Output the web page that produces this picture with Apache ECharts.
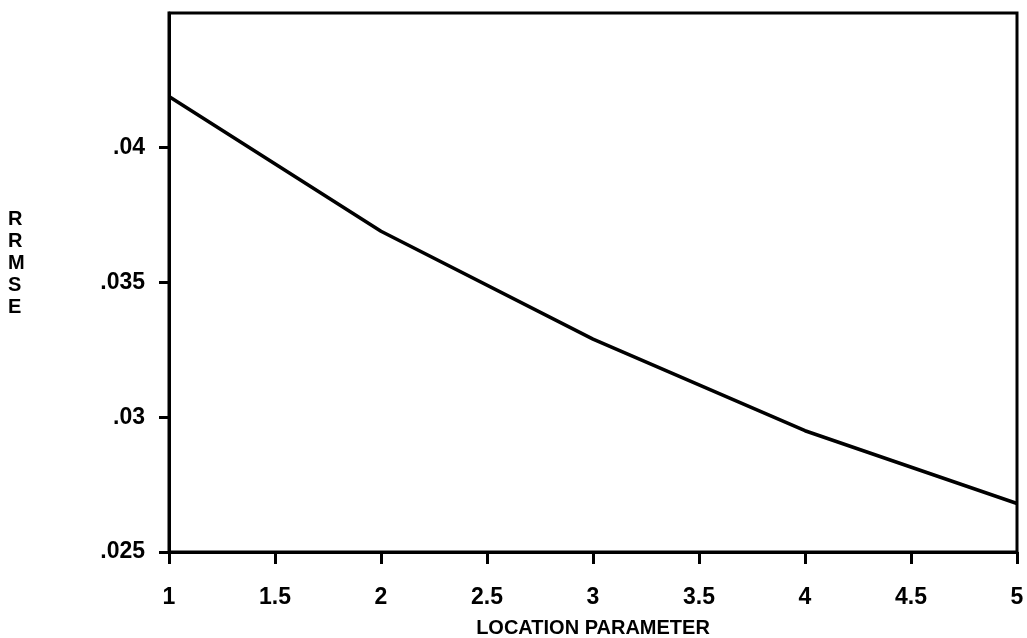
<!DOCTYPE html>
<html>
<head>
<meta charset="utf-8">
<style>
  html, body { margin: 0; padding: 0; background: #fff; }
  #chart { width: 1027px; height: 638px; }
</style>
<script src="https://cdn.jsdelivr.net/npm/echarts@6/dist/echarts.min.js"></script>
</head>
<body>
<div id="chart"></div>
<script>
// Location parameter values and the RRMSE measured at each
const locationParam = [1, 2, 3, 4, 5];
const rrmse = [0.0419, 0.0369, 0.0329, 0.0295, 0.0268];

// Axis settings
const xTicks = { min: 1, max: 5, step: 0.5 };
const yTicks = { min: 0.025, max: 0.045, step: 0.005 };
const yTickValues = [0.025, 0.03, 0.035, 0.04];
const xTitle = 'LOCATION PARAMETER';
const yTitle = 'RRMSE';

const FONT = '"Liberation Sans", Arial, sans-serif';

const chart = echarts.init(document.getElementById('chart'), null, { renderer: 'canvas' });

const fmtY = v => String(+v.toFixed(3)).replace(/^0/, '');

chart.setOption({
  animation: false,
  backgroundColor: '#fff',
  grid: {
    left: 169, right: 10, top: 13, bottom: 86,
    outerBoundsMode: 'none',
    containLabel: false,
    show: true, borderColor: '#000', borderWidth: 3, backgroundColor: 'transparent'
  },
  xAxis: {
    type: 'value',
    min: xTicks.min, max: xTicks.max, interval: xTicks.step,
    axisLine: { show: true, lineStyle: { color: '#000', width: 3 } },
    axisTick: { show: true, inside: false, length: 12, lineStyle: { color: '#000', width: 3 } },
    axisLabel: {
      color: '#000', fontFamily: FONT, fontWeight: 'bold', fontSize: 23, margin: 34,
      formatter: v => String(v)
    },
    splitLine: { show: false },
    name: xTitle,
    nameLocation: 'middle',
    nameGap: 66,
    nameTextStyle: { color: '#000', fontFamily: FONT, fontWeight: 'bold', fontSize: 20 }
  },
  yAxis: {
    type: 'value',
    min: yTicks.min, max: yTicks.max, interval: yTicks.step,
    axisLine: { show: true, lineStyle: { color: '#000', width: 3 } },
    axisTick: { show: true, inside: false, length: 10, customValues: yTickValues,
      lineStyle: { color: '#000', width: 3 } },
    axisLabel: {
      color: '#000', fontFamily: FONT, fontWeight: 'bold', fontSize: 23, margin: 24,
      customValues: yTickValues,
      formatter: fmtY
    },
    splitLine: { show: false }
  },
  graphic: [{
    type: 'text',
    left: 8,
    top: 208,
    style: {
      text: yTitle.split('').join('\n'),
      fill: '#000',
      font: 'bold 20px ' + FONT,
      lineHeight: 22,
      align: 'center'
    }
  }],
  series: [{
    type: 'line',
    data: locationParam.map((x, i) => [x, rrmse[i]]),
    symbol: 'none',
    lineStyle: { color: '#000', width: 3.5 },
    clip: false
  }]
});
</script>
</body>
</html>
